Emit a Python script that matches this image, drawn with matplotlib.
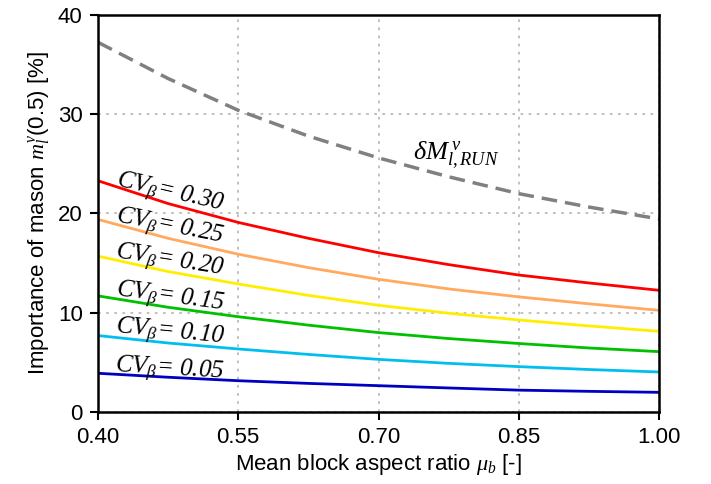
import matplotlib
matplotlib.use("Agg")
import matplotlib.pyplot as plt

plt.rcParams['font.family'] = ['Liberation Sans', 'DejaVu Sans']
plt.rcParams['mathtext.fontset'] = 'custom'
plt.rcParams['mathtext.rm'] = 'Liberation Serif'
plt.rcParams['mathtext.it'] = 'Liberation Serif:italic'
plt.rcParams['mathtext.bf'] = 'Liberation Serif:bold'

mu_b = [0.40, 0.475, 0.55, 0.625, 0.70, 0.775, 0.85, 0.925, 1.00]
dM_run = [37.25, 33.6, 30.4, 27.8, 25.6, 23.7, 22.0, 20.65, 19.45]
cv_030 = [23.3, 21.0, 19.1, 17.5, 16.05, 14.85, 13.8, 13.0, 12.26]
cv_025 = [19.4, 17.5, 15.9, 14.55, 13.37, 12.4, 11.6, 10.9, 10.24]
cv_020 = [15.7, 14.15, 12.9, 11.75, 10.75, 9.95, 9.27, 8.67, 8.13]
cv_015 = [11.7, 10.55, 9.6, 8.75, 8.0, 7.4, 6.9, 6.45, 6.08]
cv_010 = [7.7, 6.95, 6.35, 5.8, 5.3, 4.9, 4.57, 4.28, 4.03]
cv_005 = [3.9, 3.5, 3.15, 2.88, 2.65, 2.42, 2.2, 2.08, 1.98]

cv_labels = ['0.30', '0.25', '0.20', '0.15', '0.10', '0.05']
series = [cv_030, cv_025, cv_020, cv_015, cv_010, cv_005]
colors = ['#ff0000', '#ffaa5e', '#ffee00', '#00c000', '#00bfef', '#0000c0']

xticks = [0.40, 0.55, 0.70, 0.85, 1.00]
yticks = [0, 10, 20, 30, 40]

fig = plt.figure(figsize=(7.11, 4.84), dpi=100)
ax = fig.add_axes([0.1378, 0.1488, 0.7891, 0.8202])

ax.plot(mu_b, dM_run, color='#808080', lw=2.5, dashes=(4.5, 2.3))
for vals, c in zip(series, colors):
    ax.plot(mu_b, vals, color=c, lw=2.0)

ax.set_xlim(0.40, 1.00)
ax.set_ylim(0, 40)
ax.set_xticks(xticks)
ax.set_xticklabels([f"{t:.2f}" for t in xticks])
ax.set_yticks(yticks)
ax.grid(True, color='#bbbbbb', linestyle=(0, (1.5, 3)), lw=1.3)
ax.tick_params(direction='out', length=6, width=1.5, labelsize=16, pad=5)
for s in ax.spines.values():
    s.set_linewidth(1.8)

ax.set_xlabel(r"Mean block aspect ratio $\mu_b$ [-]", fontsize=16, labelpad=3)
ax.set_ylabel(r"Importance of mason $m_l^v$(0.5) [%]", fontsize=16, labelpad=5)

label_y = [22.67, 19.04, 15.42, 11.59, 7.96, 4.03]
label_rot = [-13, -11, -9, -7.5, -5.5, -3.5]
for lab, yy, rot in zip(cv_labels, label_y, label_rot):
    ax.text(0.418, yy, r"$CV_{\beta}$= " + lab, fontsize=18,
            family='Liberation Serif', style='italic',
            rotation=rot, rotation_mode='anchor', ha='left', va='baseline')

ax.text(0.737, 25.4, r"$\delta M^{\,v}_{l,RUN}$", fontsize=19, ha='left', va='baseline')

fig.savefig("out.png", dpi=100)
